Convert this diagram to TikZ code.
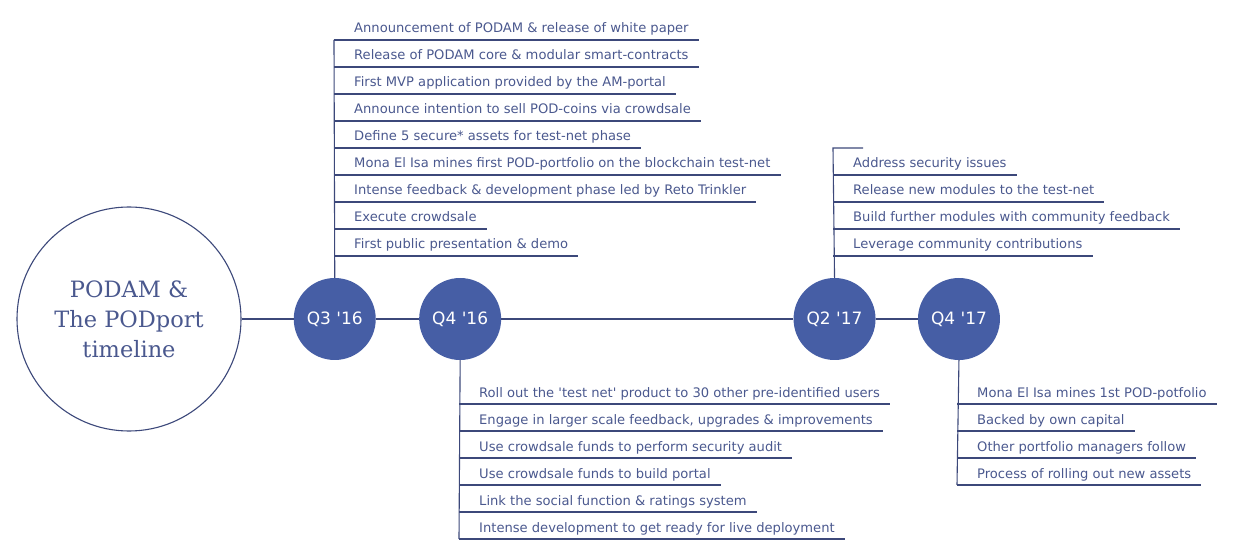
\documentclass[tikz,border=0pt]{standalone}
\usepackage{fontspec}
\setmainfont{DejaVu Sans}
\newfontfamily\titlefont{DejaVu Serif}
\usetikzlibrary{positioning}
\definecolor{ink}{RGB}{74,88,142}
\definecolor{dot}{RGB}{70,94,165}
\definecolor{rule}{RGB}{60,72,122}

\begin{document}
\begin{tikzpicture}[x=1bp, y=-1bp,
        node distance=43bp,
        line/.style={draw=rule, line width=1.1bp},
        phase/.style={circle, fill=dot, text=white, minimum size=82bp,
                inner sep=0pt, font=\fontsize{17bp}{18bp}\selectfont},
        task/.style={anchor=base west, inner xsep=10bp, inner ysep=0pt,
                text=ink, font=\fontsize{13.1bp}{16bp}\selectfont,
                append after command={([xshift=-10bp,yshift=-7bp]\tikzlastnode.base west)
                        edge[line] ([yshift=-7bp]\tikzlastnode.base east)}}]

    \useasboundingbox (0,0) rectangle (1234,555);

    % title and the four quarters
    \node[circle, line, minimum size=224bp, align=center, text=ink,
        font=\titlefont\fontsize{22.5bp}{30bp}\selectfont] (title) at (129,319)
    {PODAM \&\\The PODport\\timeline};
    \node[phase, right=52bp of title] (q3)  {Q3 \textquotesingle16};
    \node[phase, right=of q3]         (q4a) {Q4 \textquotesingle16};
    \node[phase, right=292bp of q4a]  (q2)  {Q2 \textquotesingle17};
    \node[phase, right=42bp of q2]    (q4b) {Q4 \textquotesingle17};

    \draw[line] (title) -- (q3) -- (q4a) -- (q2) -- (q4b);

    % Q3 '16
    \coordinate (q3top) at (334,40);
    \draw[line] (q3.north) -- (q3top);
    \node[task] (a1) at (344,33)  {Announcement of PODAM \& release of white paper};
    \node[task] (a2) at (344,60)  {Release of PODAM core \& modular smart-contracts};
    \node[task] (a3) at (344,87)  {First MVP application provided by the AM-portal};
    \node[task] (a4) at (344,114) {Announce intention to sell POD-coins via crowdsale};
    \node[task] (a5) at (344,141) {Define 5 secure* assets for test-net phase};
    \node[task] (a6) at (344,168) {Mona El Isa mines first POD-portfolio on the blockchain test-net};
    \node[task] (a7) at (344,195) {Intense feedback \& development phase led by Reto Trinkler};
    \node[task] (a8) at (344,222) {Execute crowdsale};
    \node[task] (a9) at (344,249) {First public presentation \& demo};

    % Q4 '16
    \coordinate (q4abot) at (459,539);
    \draw[line] (q4a.south) -- (q4abot);
    \node[task] (b1) at (469,397) {Roll out the \textquotesingle test net\textquotesingle{} product to 30 other pre-identified users};
    \node[task] (b2) at (469,424) {Engage in larger scale feedback, upgrades \& improvements};
    \node[task] (b3) at (469,451) {Use crowdsale funds to perform security audit};
    \node[task] (b4) at (469,478) {Use crowdsale funds to build portal};
    \node[task] (b5) at (469,505) {Link the social function \& ratings system};
    \node[task] (b6) at (469,532) {Intense development to get ready for live deployment};

    % Q2 '17
    \coordinate (q2top) at (833,148);
    \coordinate (q2tick) at (863,148);
    \draw[line] (q2.north) -- (q2top) -- (q2tick);
    \node[task] (c1) at (843,168) {Address security issues};
    \node[task] (c2) at (843,195) {Release new modules to the test-net};
    \node[task] (c3) at (843,222) {Build further modules with community feedback};
    \node[task] (c4) at (843,249) {Leverage community contributions};

    % Q4 '17
    \coordinate (q4bbot) at (957,485);
    \draw[line] (q4b.south) -- (q4bbot);
    \node[task] (d1) at (967,397) {Mona El Isa mines 1st POD-potfolio};
    \node[task] (d2) at (967,424) {Backed by own capital};
    \node[task] (d3) at (967,451) {Other portfolio managers follow};
    \node[task] (d4) at (967,478) {Process of rolling out new assets};
\end{tikzpicture}
\end{document}
